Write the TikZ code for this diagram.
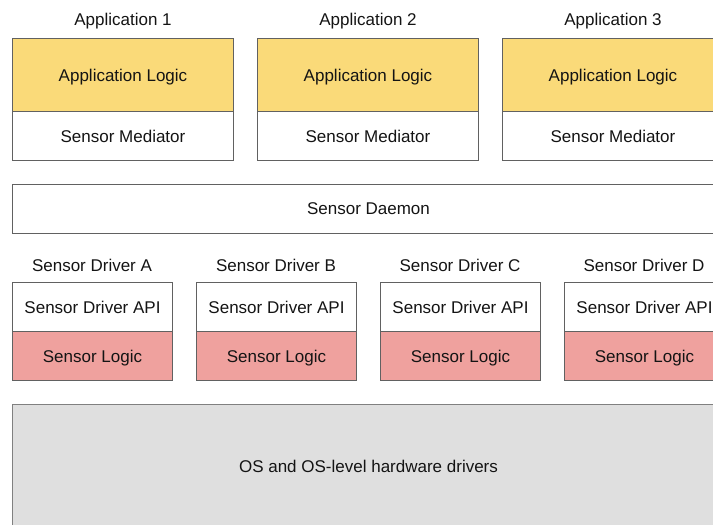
\documentclass[tikz,border=0pt]{standalone}
\usepackage{fontspec}
\setmainfont{Liberation Sans}
\begin{document}
\begin{tikzpicture}[x=1pt,y=-1pt,
  every node/.style={font=\fontsize{17}{20}\selectfont, text=black!92, text depth=0pt},
  box/.style={draw=black!62, line width=1pt, anchor=north west, inner sep=0pt},
  lbl/.style={anchor=center},
]
\definecolor{appyellow}{HTML}{FADA79}
\definecolor{logicpink}{HTML}{EFA19E}
\definecolor{osgray}{HTML}{DFDFDF}
\useasboundingbox (0,0) rectangle (713,525);
\clip (0,0) rectangle (713,525);
% Applications
\foreach \i/\x in {1/12,2/257,3/502}{
  \node[lbl] (applbl\i) at (\x+111,19) {Application \i};
  \node[box, fill=appyellow, minimum width=221pt, minimum height=73pt] (applogic\i) at (\x,38) {Application Logic};
  \node[box, fill=white, minimum width=221pt, minimum height=49pt] (mediator\i) at (\x,111) {Sensor Mediator};
}
% Daemon
\node[box, fill=white, minimum width=712pt, minimum height=49pt] (daemon) at (12,184) {Sensor Daemon};
% Drivers
\foreach \n/\x in {A/12,B/196,C/380,D/564}{
  \node[lbl] (drvlbl\n) at (\x+80,265) {Sensor Driver \n};
  \node[box, fill=white, minimum width=160pt, minimum height=49pt] (drvapi\n) at (\x,282) {Sensor Driver API};
  \node[box, fill=logicpink, minimum width=160pt, minimum height=49pt] (drvlogic\n) at (\x,331) {Sensor Logic};
}
% OS
\node[box, fill=osgray, draw=black!50, minimum width=712pt, minimum height=124pt] (os) at (12,404) {OS and OS-level hardware drivers};
\end{tikzpicture}
\end{document}
